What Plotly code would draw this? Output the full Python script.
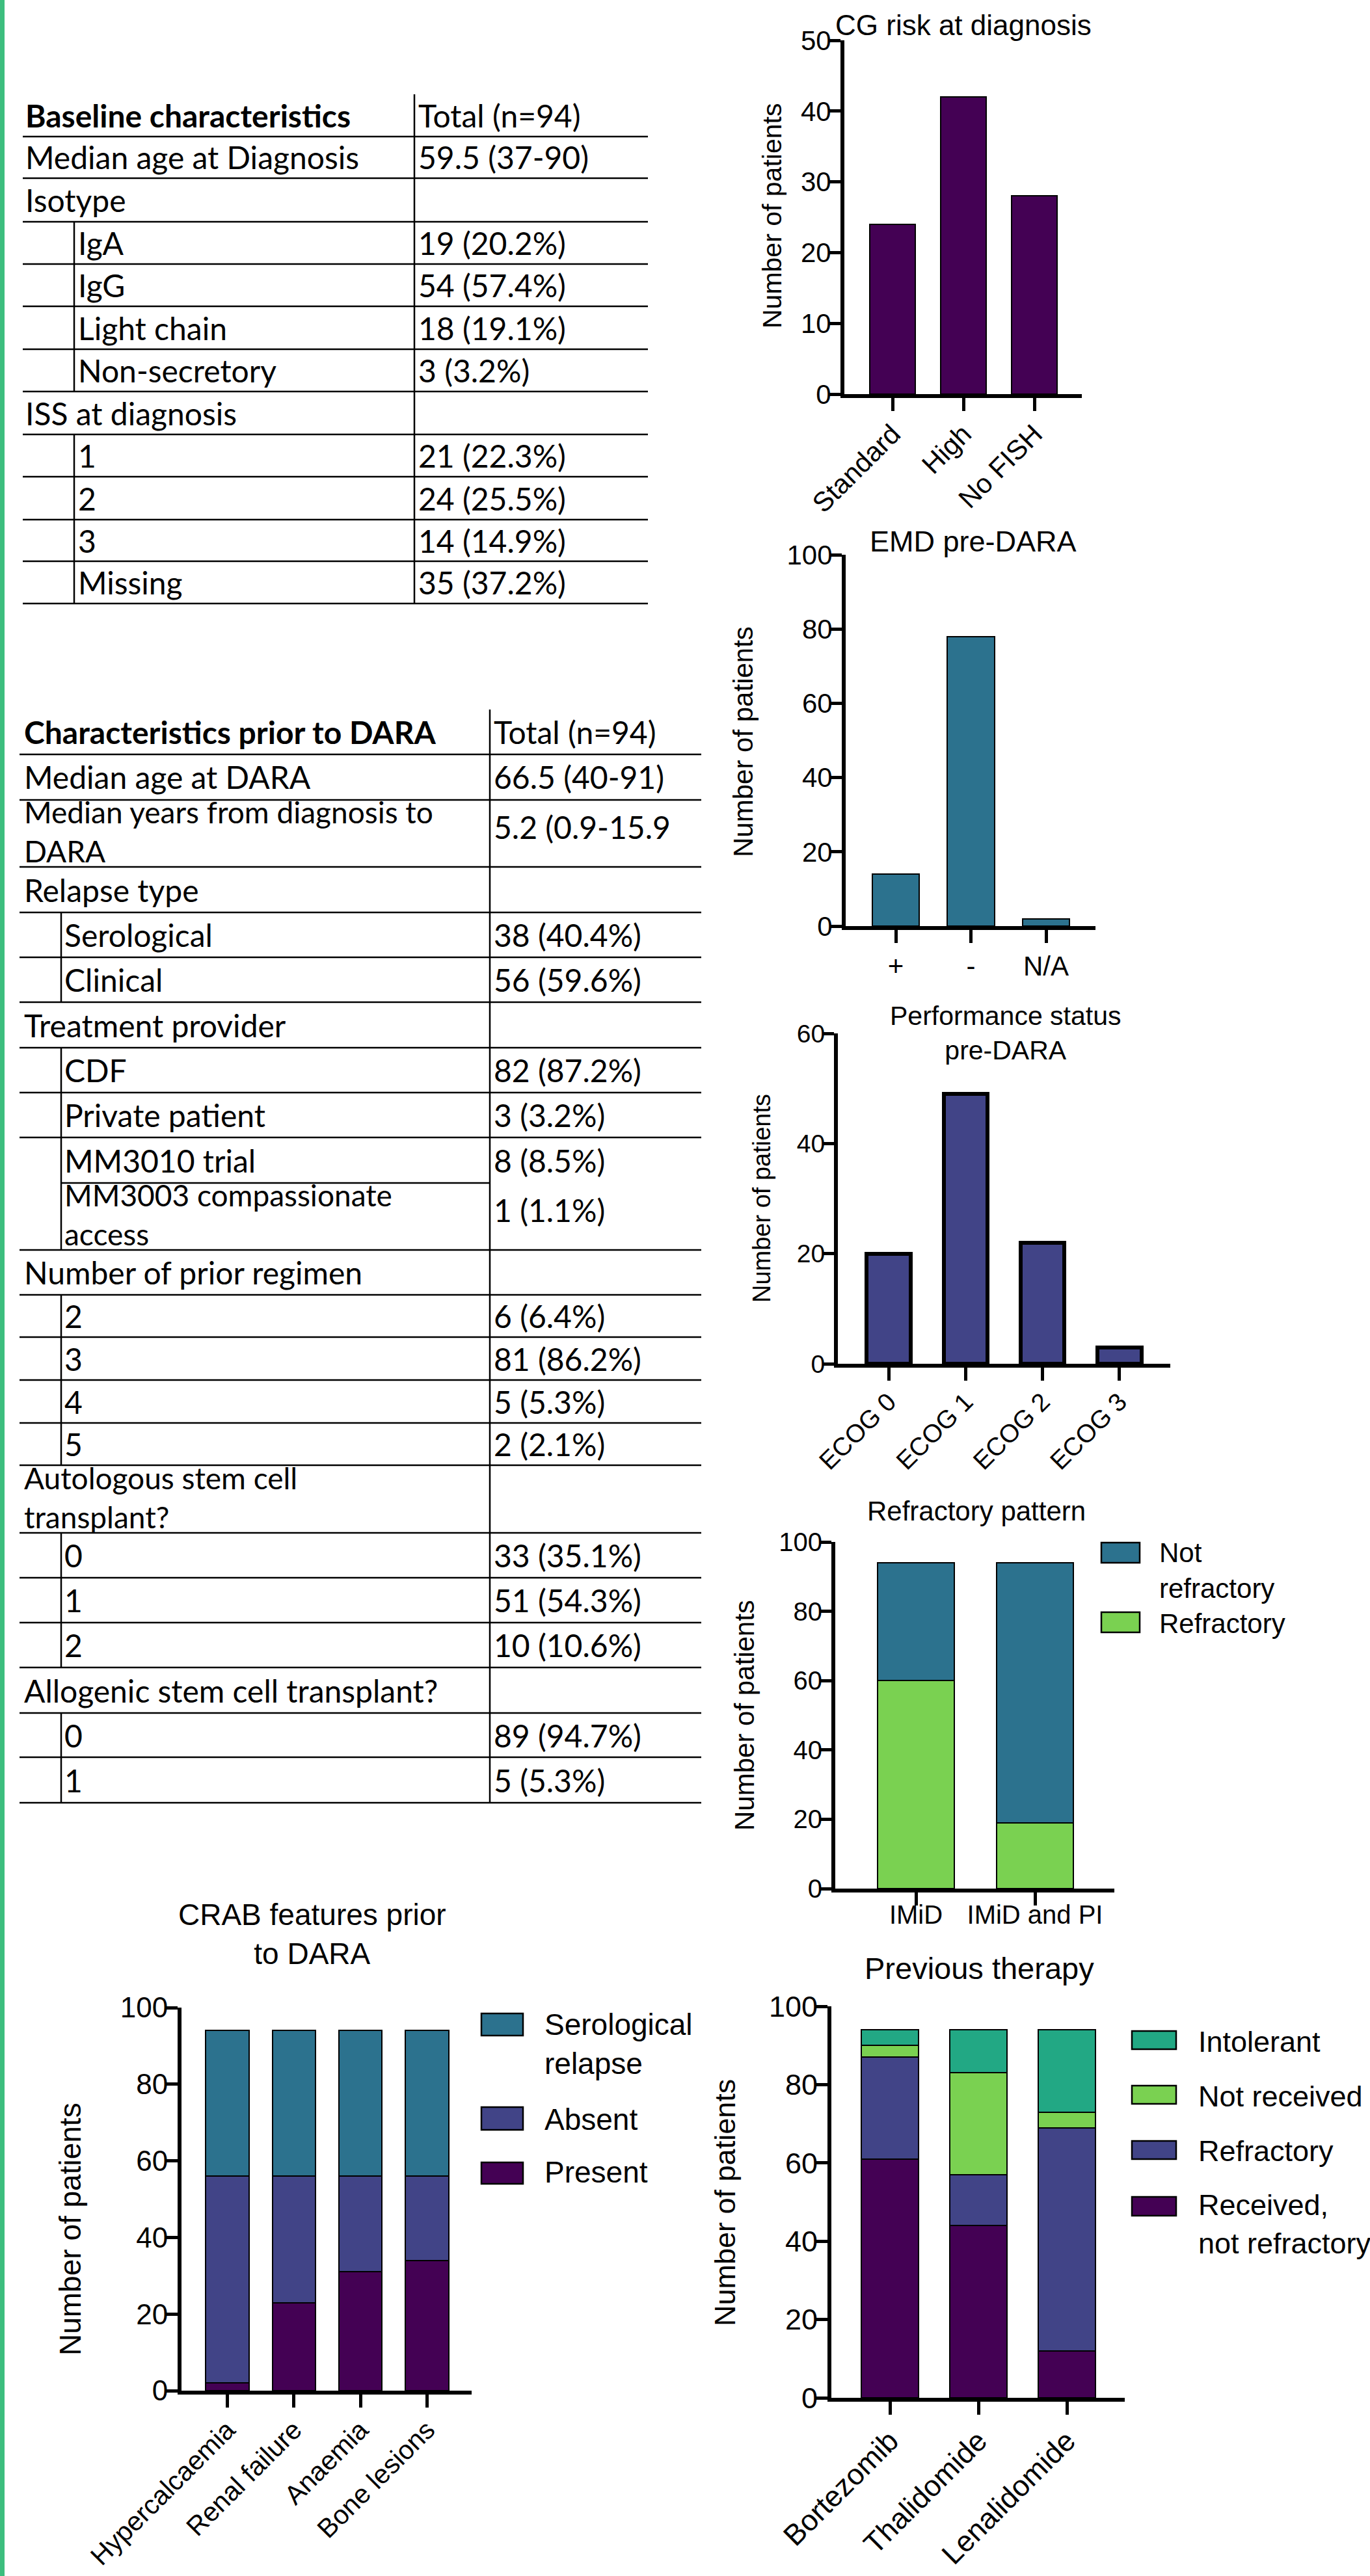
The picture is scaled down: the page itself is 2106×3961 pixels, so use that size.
import plotly.graph_objects as go

W, H = 2106, 3961

# ---------------- table contents ----------------
baseline_header = ["Baseline characteristics", "Total (n=94)"]
baseline_labels = ["Median age at Diagnosis", "Isotype", "IgA", "IgG", "Light chain",
                   "Non-secretory", "ISS at diagnosis", "1", "2", "3", "Missing"]
baseline_values = ["59.5 (37-90)", "", "19 (20.2%)", "54 (57.4%)", "18 (19.1%)",
                   "3 (3.2%)", "", "21 (22.3%)", "24 (25.5%)", "14 (14.9%)", "35 (37.2%)"]
baseline_indent = [False, False, True, True, True, True, False, True, True, True, True]

prior_header = ["Characteristics prior to DARA", "Total (n=94)"]
prior_labels = ["Median age at DARA", "Median years from diagnosis to\nDARA", "Relapse type",
                "Serological", "Clinical", "Treatment provider", "CDF", "Private patient",
                "MM3010 trial", "MM3003 compassionate\naccess", "Number of prior regimen",
                "2", "3", "4", "5", "Autologous stem cell\ntransplant?", "0", "1", "2",
                "Allogenic stem cell transplant?", "0", "1"]
prior_values = ["66.5 (40-91)", "5.2 (0.9-15.9", "", "38 (40.4%)", "56 (59.6%)", "",
                "82 (87.2%)", "3 (3.2%)", "8 (8.5%)", "1 (1.1%)", "", "6 (6.4%)",
                "81 (86.2%)", "5 (5.3%)", "2 (2.1%)", "", "33 (35.1%)", "51 (54.3%)",
                "10 (10.6%)", "", "89 (94.7%)", "5 (5.3%)"]
prior_indent = [False, False, False, True, True, False, True, True, True, True, False,
                True, True, True, True, False, True, True, True, False, True, True]

# ---------------- chart data ----------------
cg_categories = ["Standard", "High", "No FISH"]
cg_counts = [24, 42, 28]

emd_categories = ["+", "-", "N/A"]
emd_counts = [14, 78, 2]

ecog_categories = ["ECOG 0", "ECOG 1", "ECOG 2", "ECOG 3"]
ecog_counts = [20, 49, 22, 3]

refr_categories = ["IMiD", "IMiD and PI"]
refr_refractory = [60, 19]
refr_not_refractory = [34, 75]
refr_legend = ["Not\nrefractory", "Refractory"]

crab_categories = ["Hypercalcaemia", "Renal failure", "Anaemia", "Bone lesions"]
crab_present = [2, 23, 31, 34]
crab_absent = [54, 33, 25, 22]
crab_serological = [38, 38, 38, 38]
crab_legend = ["Serological\nrelapse", "Absent", "Present"]

prev_categories = ["Bortezomib", "Thalidomide", "Lenalidomide"]
prev_received = [61, 44, 12]
prev_refractory = [26, 13, 57]
prev_not_received = [3, 26, 4]
prev_intolerant = [4, 11, 21]
prev_legend = ["Intolerant", "Not received", "Refractory", "Received,\nnot refractory"]

y_title = "Number of patients"

# viridis-style palette
PURPLE = "#440154"
INDIGO = "#414487"
TEAL = "#2C728E"
JADE = "#22A884"
LIME = "#7AD151"

TABLE_FONT = "Lato, Carlito, Liberation Sans, sans-serif"
CHART_FONT = "Liberation Sans, Arial, sans-serif"
TS = 48

fig = go.Figure()
shapes, annotations = [], []


def fx(p):
    return p / W


def fy(p):
    return 1 - p / H


def add_text(x, y, s, size, family, xanchor="left", yanchor="middle", angle=0, bold=False):
    annotations.append(dict(
        x=fx(x), y=fy(y), xref="paper", yref="paper",
        text=f"<b>{s}</b>" if bold else s.replace("\n", "<br>"),
        showarrow=False, xanchor=xanchor, yanchor=yanchor, textangle=angle,
        align="left" if xanchor == "left" else "center",
        font=dict(family=family, size=size, color="black")))


def hline(y, x0, x1, w=2.5):
    shapes.append(dict(type="line", xref="paper", yref="paper", x0=fx(x0), x1=fx(x1),
                       y0=fy(y), y1=fy(y), line=dict(color="black", width=w)))


def vline(x, y0, y1, w=2.5):
    shapes.append(dict(type="line", xref="paper", yref="paper", x0=fx(x), x1=fx(x),
                       y0=fy(y0), y1=fy(y1), line=dict(color="black", width=w)))


def draw_table(header, labels, values, indent, bounds, left, right, div, indent_x,
               label_x, sub_x, value_x, partial_below=()):
    hy = (bounds[0] + bounds[1]) / 2
    add_text(label_x, hy, header[0], TS, TABLE_FONT, bold=True)
    add_text(value_x, hy, header[1], TS, TABLE_FONT)
    n = len(labels)
    for i in range(n):
        top, bot = bounds[i + 1], bounds[i + 2]
        x = sub_x if indent[i] else label_x
        mid = (top + bot) / 2
        two_lines = "\n" in labels[i]
        add_text(x, mid - 3 if two_lines else mid, labels[i], TS - 2 if two_lines else TS,
                 TABLE_FONT)
        if values[i]:
            add_text(value_x, mid - 10 if two_lines else mid, values[i], TS, TABLE_FONT)
    for j in range(1, len(bounds)):
        if (j - 2) in partial_below:
            hline(bounds[j], indent_x, div)
        else:
            hline(bounds[j], left, right)
    vline(div, bounds[0], bounds[-1])
    i = 0
    while i < n:
        if indent[i]:
            j = i
            while j + 1 < n and indent[j + 1]:
                j += 1
            vline(indent_x, bounds[i + 1], bounds[j + 2])
            i = j + 1
        else:
            i += 1


# left accent bar
shapes.append(dict(type="rect", xref="paper", yref="paper", x0=0, x1=fx(7), y0=0, y1=1,
                   fillcolor="#3DBE7E", line=dict(width=0)))

draw_table(baseline_header, baseline_labels, baseline_values, baseline_indent,
           [145, 210, 274, 341, 406, 471, 537, 602, 668, 733, 799, 863, 928],
           left=35, right=996, div=637, indent_x=114, label_x=37, sub_x=118, value_x=641)

draw_table(prior_header, prior_labels, prior_values, prior_indent,
           [1091, 1160, 1230, 1333, 1403, 1472, 1541, 1611, 1680, 1749, 1819, 1922, 1991,
            2056, 2122, 2188, 2253, 2357, 2426, 2495, 2564, 2634, 2702, 2772],
           left=30, right=1078, div=753, indent_x=94, label_x=35, sub_x=97, value_x=757,
           partial_below=(8,))


def setup_axes(n, x0, x1, ytop, ybot, c0, step, ymax, dtick, fsize, angle, xstandoff=0,
               xfsize=None):
    sfx = "" if n == 1 else str(n)
    fig.layout["xaxis" + sfx] = dict(
        domain=[fx(x0), fx(x1)], anchor="y" + sfx, type="category",
        range=[(x0 - c0) / step, (x1 - c0) / step],
        showline=True, linewidth=6, linecolor="black", mirror=False,
        ticks="outside", ticklen=20, tickwidth=5, tickcolor="black",
        tickangle=angle, ticklabelstandoff=xstandoff,
        tickfont=dict(family=CHART_FONT, size=xfsize or fsize, color="black"),
        showgrid=False, zeroline=False, automargin=False, fixedrange=True)
    fig.layout["yaxis" + sfx] = dict(
        domain=[fy(ybot), fy(ytop)], anchor="x" + sfx,
        range=[0, ymax], tick0=0, dtick=dtick,
        showline=True, linewidth=6, linecolor="black",
        ticks="outside", ticklen=18, tickwidth=5, tickcolor="black",
        ticklabelstandoff=-12,
        tickfont=dict(family=CHART_FONT, size=fsize, color="black"),
        showgrid=False, zeroline=False, automargin=False, fixedrange=True)
    return "x" + sfx, "y" + sfx


def bar(xa, ya, cats, vals, color, width, lw=2):
    fig.add_trace(go.Bar(x=cats, y=vals, xaxis=xa, yaxis=ya, width=width,
                         marker=dict(color=color, line=dict(color="black", width=lw)),
                         showlegend=False, hoverinfo="skip"))


def legend(items, colors, sx0, sx1, swatch_y, text_x, text_y, size):
    for label, col, (t, b), ty in zip(items, colors, swatch_y, text_y):
        shapes.append(dict(type="rect", xref="paper", yref="paper", x0=fx(sx0), x1=fx(sx1),
                           y0=fy(b), y1=fy(t), fillcolor=col,
                           line=dict(color="black", width=2.5)))
        add_text(text_x, ty, label, size, CHART_FONT)


# CG risk at diagnosis
xa, ya = setup_axes(1, 1298, 1663, 62, 606, 1372, 109, 50, 10, 42, -45, xstandoff=-6)
bar(xa, ya, cg_categories, cg_counts, PURPLE, 0.65)
add_text(1481, 38, "CG risk at diagnosis", 44, CHART_FONT, xanchor="center")
add_text(1187, 332, y_title, 41, CHART_FONT, xanchor="center", angle=-90)

# EMD pre-DARA
xa, ya = setup_axes(2, 1300, 1684, 853, 1424, 1377, 115.5, 100, 20, 42, 0)
bar(xa, ya, emd_categories, emd_counts, TEAL, 0.63)
add_text(1496, 832, "EMD pre-DARA", 45, CHART_FONT, xanchor="center")
add_text(1142, 1141, y_title, 42, CHART_FONT, xanchor="center", angle=-90)

# Performance status pre-DARA
xa, ya = setup_axes(3, 1288, 1799, 1589, 2097, 1366, 118.3, 60, 20, 39, -45, xstandoff=-6)
bar(xa, ya, ecog_categories, ecog_counts, INDIGO, 0.57, lw=6)
add_text(1546, 1588, "Performance status\npre-DARA", 41, CHART_FONT, xanchor="center")
add_text(1171, 1843, y_title, 38, CHART_FONT, xanchor="center", angle=-90)

# Refractory pattern
xa, ya = setup_axes(4, 1284, 1713, 2371, 2904, 1408, 183, 100, 20, 40, 0, xstandoff=-20)
bar(xa, ya, refr_categories, refr_refractory, LIME, 0.65)
bar(xa, ya, refr_categories, refr_not_refractory, TEAL, 0.65)
add_text(1501, 2323, "Refractory pattern", 42, CHART_FONT, xanchor="center")
add_text(1144, 2638, y_title, 42, CHART_FONT, xanchor="center", angle=-90)
legend(refr_legend, [TEAL, LIME], 1693, 1752, [(2372, 2403), (2479, 2510)],
       1780, [2415, 2496], 42)

# CRAB features prior to DARA
xa, ya = setup_axes(5, 279, 725, 3087, 3676, 349.5, 102.3, 100, 20, 44, -45, xstandoff=-6,
                    xfsize=41)
bar(xa, ya, crab_categories, crab_present, PURPLE, 0.65)
bar(xa, ya, crab_categories, crab_absent, INDIGO, 0.65)
bar(xa, ya, crab_categories, crab_serological, TEAL, 0.65)
add_text(480, 2974, "CRAB features prior\nto DARA", 46, CHART_FONT, xanchor="center")
add_text(108, 3428, y_title, 46, CHART_FONT, xanchor="center", angle=-90)
legend(crab_legend, [TEAL, INDIGO, PURPLE], 740, 804,
       [(3096, 3130), (3240, 3275), (3325, 3358)], 835, [3143, 3259, 3340], 46)

# Previous therapy
xa, ya = setup_axes(6, 1278, 1729, 3085, 3687, 1368, 136, 100, 20, 45, -45, xstandoff=-4)
bar(xa, ya, prev_categories, prev_received, PURPLE, 0.64)
bar(xa, ya, prev_categories, prev_refractory, INDIGO, 0.64)
bar(xa, ya, prev_categories, prev_not_received, LIME, 0.64)
bar(xa, ya, prev_categories, prev_intolerant, JADE, 0.64)
add_text(1505, 3026, "Previous therapy", 47, CHART_FONT, xanchor="center")
add_text(1114, 3387, y_title, 45, CHART_FONT, xanchor="center", angle=-90)
legend(prev_legend, [JADE, LIME, INDIGO, PURPLE], 1740, 1808,
       [(3123, 3151), (3207, 3235), (3292, 3320), (3378, 3407)], 1840,
       [3139, 3223, 3307, 3420], 45)

fig.update_layout(
    width=W, height=H, margin=dict(l=0, r=0, t=0, b=0),
    template="none", barmode="stack", showlegend=False,
    paper_bgcolor="white", plot_bgcolor="white",
    font=dict(family=CHART_FONT, color="black"),
    shapes=shapes, annotations=annotations)

fig.write_html("out.html")
